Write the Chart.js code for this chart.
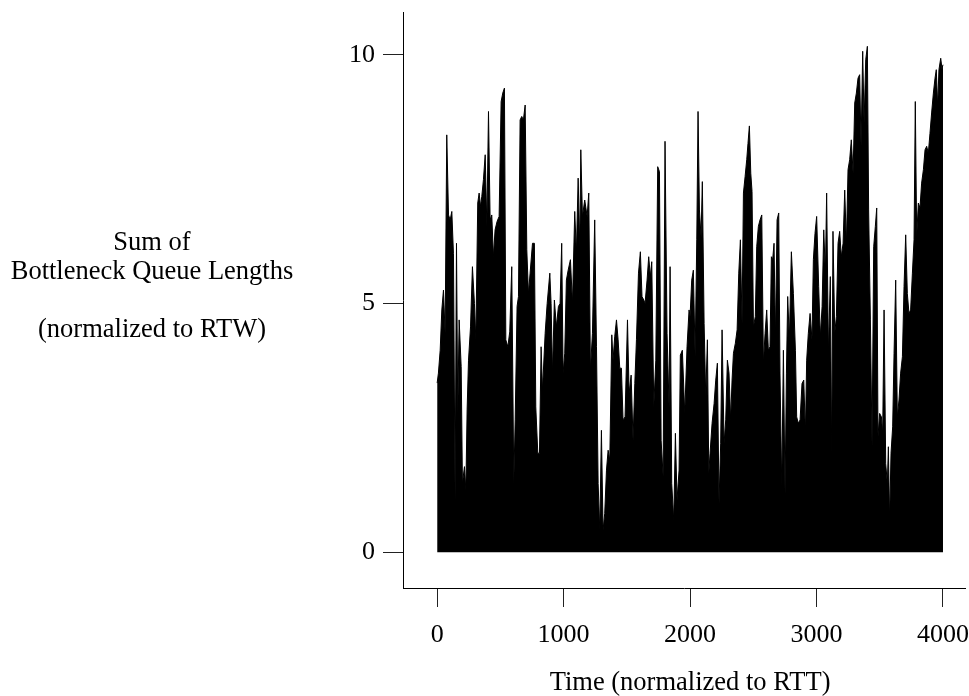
<!DOCTYPE html>
<html>
<head>
<meta charset="utf-8">
<script src="https://cdn.jsdelivr.net/npm/chart.js@4.4.1/dist/chart.umd.min.js"></script>
<style>
  html, body { margin: 0; padding: 0; background: #fff; }
  #wrap { width: 969px; height: 696px; }
</style>
</head>
<body>
<div id="wrap"><canvas id="canvas" width="969" height="696"></canvas></div>
<script>
// Time samples (normalized to RTT) and queue sum (normalized to RTW)
const timesA = [0, 10, 24, 37, 50, 63, 76, 90, 103, 116, 129, 142, 153, 163, 174, 190, 200, 216, 227, 237,
  248, 264, 279, 295, 306, 321, 332, 343, 353, 366, 380, 393, 406, 419, 432, 445, 458, 474, 490, 506,
  519, 532, 543, 559, 574, 590, 606, 617, 632, 643, 656, 669, 682, 696, 709, 722, 735, 754, 769, 780,
  796, 809, 822, 833, 854, 870, 891, 901, 912, 927, 943, 959, 972, 985, 996];
const queueA = [3.4, 3.6, 4.06, 4.87, 5.27, 4.4, 8.39, 6.78, 6.68, 6.85, 6.0, 1.05, 6.21, 2.79, 4.67, 3.73, 1.38, 1.72, 1.25, 2.86,
  3.86, 4.53, 5.74, 5.0, 4.27, 7.02, 7.22, 6.95, 7.15, 7.49, 7.99, 6.55, 8.86, 6.68, 6.78, 5.94, 6.48, 6.65, 6.75, 9.06,
  9.23, 9.33, 4.27, 4.13, 4.43, 5.74, 1.38, 2.66, 4.94, 5.14, 8.69, 8.76, 8.69, 8.99, 6.08, 5.2, 5.61, 6.21, 6.21, 2.92,
  1.99, 1.99, 4.13, 3.26, 4.4, 5.0, 5.61, 5.0, 3.6, 5.07, 4.53, 4.94, 5.0, 6.21, 3.6];

const timesB = [1009, 1022, 1036, 1054, 1070, 1088, 1101, 1115, 1128, 1136, 1149, 1167, 1186, 1199, 1212, 1228, 1246, 1260, 1273, 1286,
  1299, 1312, 1325, 1339, 1352, 1365, 1381, 1391, 1404, 1418, 1431, 1444, 1457, 1470, 1486, 1505, 1518, 1534, 1549, 1563,
  1576, 1592, 1607, 1620, 1634, 1644, 1660, 1673, 1686, 1697, 1713, 1729, 1744, 1758, 1771, 1787, 1802, 1818, 1834, 1842,
  1855, 1871, 1884, 1897, 1913, 1923, 1939, 1958, 1976, 1992];
const queueB = [4.0, 5.47, 5.67, 5.88, 5.0, 6.85, 6.01, 7.52, 6.14, 8.09, 6.75, 7.08, 6.75, 7.22, 3.66, 4.4, 6.68, 4.13, 1.38, 0.44,
  2.45, 0.44, 0.78, 1.65, 2.05, 1.85, 4.37, 3.86, 4.33, 4.67, 4.27, 3.7, 3.7, 2.66, 2.72, 4.67, 3.19, 3.56, 2.25, 3.39,
  4.27, 5.61, 6.04, 5.14, 5.07, 5.0, 5.47, 5.94, 5.54, 5.84, 2.92, 3.86, 7.75, 7.65, 2.25, 1.52, 8.26, 4.4, 2.92, 5.74,
  1.38, 0.64, 2.39, 1.05, 1.65, 3.96, 4.06, 2.79, 4.13, 4.87];

const timesC = [2000, 2013, 2026, 2040, 2053, 2063, 2074, 2087, 2097, 2111, 2124, 2137, 2148, 2158, 2174, 2190, 2203, 2216, 2229, 2242,
  2253, 2269, 2282, 2295, 2308, 2321, 2332, 2343, 2358, 2372, 2385, 2398, 2411, 2422, 2435, 2448, 2458, 2469, 2480, 2490,
  2501, 2516, 2527, 2540, 2553, 2567, 2580, 2593, 2606, 2619, 2632, 2643, 2653, 2664, 2675, 2688, 2701, 2711, 2725, 2738,
  2751, 2762, 2772, 2785, 2801, 2817, 2833, 2843, 2856, 2870, 2885, 2899, 2912, 2922, 2935, 2949, 2964, 2975, 2988, 3001];
const queueC = [4.74, 5.47, 5.67, 3.93, 6.28, 8.86, 6.88, 6.34, 7.45, 4.6, 3.13, 4.27, 1.58, 1.99, 2.59, 2.99, 3.46, 3.8, 0.98, 2.19,
  4.47, 2.19, 2.66, 3.86, 3.6, 2.66, 3.46, 4.0, 4.2, 4.47, 5.61, 6.28, 4.6, 7.22, 7.55, 7.89, 8.22, 8.57, 7.62, 7.25,
  4.53, 4.74, 6.14, 6.55, 6.68, 6.78, 3.8, 4.4, 4.87, 4.06, 4.13, 5.94, 5.88, 6.21, 4.33, 6.68, 6.82, 3.6, 1.31, 4.06,
  1.18, 3.6, 5.14, 4.27, 6.04, 5.2, 4.06, 2.72, 2.59, 2.66, 3.39, 3.46, 2.39, 3.86, 4.4, 4.8, 4.27, 5.88, 6.41, 6.75];

const timesD = [3017, 3030, 3044, 3057, 3070, 3080, 3094, 3109, 3120, 3130, 3144, 3157, 3170, 3183, 3196, 3210, 3223, 3236, 3249, 3262,
  3275, 3289, 3302, 3315, 3328, 3341, 3352, 3365, 3376, 3389, 3402, 3412, 3426, 3439, 3452, 3465, 3476, 3486, 3499, 3513,
  3523, 3534, 3547, 3560, 3568, 3578, 3589, 3602, 3613, 3626, 3639, 3652, 3665, 3679, 3692, 3705, 3718, 3731, 3744, 3758,
  3771, 3781, 3792, 3805, 3818, 3831, 3845, 3858, 3871, 3884, 3897, 3910, 3924, 3937, 3947, 3958, 3968, 3982, 3992, 4000];
const queueD = [5.34, 4.33, 4.94, 6.48, 5.61, 7.22, 4.0, 5.54, 1.92, 6.45, 4.4, 4.74, 6.21, 6.45, 5.94, 6.21, 7.28, 6.18, 7.69, 7.89,
  8.29, 7.62, 9.03, 9.23, 9.53, 9.6, 8.16, 10.07, 8.63, 9.9, 10.17, 6.88, 4.67, 2.12, 6.14, 6.55, 6.92, 2.32, 2.79, 2.72,
  2.39, 4.87, 1.78, 1.38, 2.12, 0.64, 1.99, 2.52, 4.0, 5.47, 2.72, 3.06, 3.6, 3.93, 5.34, 6.38, 5.2, 4.8, 4.87, 5.61,
  6.28, 9.06, 6.34, 7.02, 6.92, 7.42, 7.69, 8.09, 8.16, 8.02, 8.42, 8.83, 9.23, 9.53, 9.7, 8.96, 9.7, 9.93, 9.72, 9.8];

const xTicks = [0, 1000, 2000, 3000, 4000];
const yTicks = [0, 5, 10];

const yTitleLines = ['Sum of', 'Bottleneck Queue Lengths', '', '(normalized to RTW)'];
const xTitle = 'Time (normalized to RTT)';

const FONT = "'Liberation Serif', 'Times New Roman', serif";

const times = [].concat(timesA, timesB, timesC, timesD);
const queue = [].concat(queueA, queueB, queueC, queueD);
const points = times.map((t, i) => ({ x: t, y: queue[i] }));

// keep the plot box fixed: no extra room for overflowing tick labels
function noPadding(scale) {
  scale.paddingLeft = 0;
  scale.paddingRight = 0;
  scale.paddingTop = 0;
  scale.paddingBottom = 0;
}

// axis titles are plain horizontal text, drawn after the chart
const titlesPlugin = {
  id: 'titles',
  afterDraw(chart) {
    const ctx = chart.ctx;
    ctx.save();
    ctx.fillStyle = '#000';
    ctx.font = '26.5px ' + FONT;
    ctx.textAlign = 'center';
    ctx.textBaseline = 'middle';
    yTitleLines.forEach((line, i) => {
      if (line) ctx.fillText(line, 152, 243 + i * 29);
    });
    const xs = chart.scales.x;
    ctx.fillText(xTitle, xs.getPixelForValue(2000), 683);
    ctx.restore();
  }
};

new Chart(document.getElementById('canvas').getContext('2d'), {
  type: 'line',
  data: {
    datasets: [{
      data: points,
      borderColor: '#000',
      backgroundColor: '#000',
      borderWidth: 1,
      pointRadius: 0,
      tension: 0,
      fill: 'origin'
    }]
  },
  options: {
    responsive: false,
    animation: false,
    events: [],
    layout: { padding: { top: 12, right: 4, left: 0, bottom: 0 } },
    plugins: { legend: { display: false }, tooltip: { enabled: false } },
    scales: {
      x: {
        type: 'linear',
        min: -270,
        max: 4174,
        afterFit(scale) { scale.height = 108; noPadding(scale); },
        afterBuildTicks(scale) { scale.ticks = xTicks.map(v => ({ value: v })); },
        border: { display: true, color: '#000', width: 1 },
        grid: { drawOnChartArea: false, drawTicks: true, tickLength: 19, color: '#222' },
        ticks: { color: '#000', padding: 13, maxRotation: 0, font: { family: FONT, size: 26 },
          callback: v => String(v) }
      },
      y: {
        type: 'linear',
        min: -0.72,
        max: 10.86,
        afterFit(scale) { scale.width = 403; noPadding(scale); },
        afterBuildTicks(scale) { scale.ticks = yTicks.map(v => ({ value: v })); },
        border: { display: true, color: '#000', width: 1 },
        grid: { drawOnChartArea: false, drawTicks: true, tickLength: 20, color: '#222' },
        ticks: { color: '#000', padding: 8, font: { family: FONT, size: 26 },
          callback: v => String(v) }
      }
    }
  },
  plugins: [titlesPlugin]
});
</script>
</body>
</html>
